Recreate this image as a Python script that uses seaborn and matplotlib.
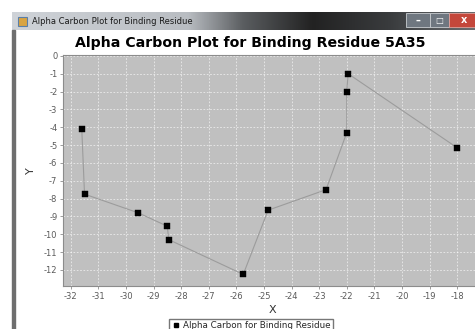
import numpy as np
import pandas as pd
import matplotlib
matplotlib.use('Agg')
import matplotlib.pyplot as plt
from matplotlib.patches import Rectangle
from matplotlib.lines import Line2D
from matplotlib.colors import LinearSegmentedColormap
import seaborn as sns

# Alpha carbon coordinates (in plotting order)
x_vals = [-31.6, -31.5, -29.55, -28.5, -28.45, -25.75, -24.85, -22.75, -22.0, -22.0, -21.95, -18.0]
y_vals = [-4.1, -7.75, -8.8, -9.55, -10.3, -12.25, -8.65, -7.5, -4.3, -2.0, -1.0, -5.15]
x_ticks = list(range(-32, -17))
y_ticks = list(range(0, -13, -1))

datos = pd.DataFrame({'X': x_vals, 'Y': y_vals, 'orden': range(len(x_vals))})

sns.set_style("white")
plt.rcParams['font.family'] = ['DejaVu Sans']

W, H = 475, 329
fig = plt.figure(figsize=(W / 100, H / 100), dpi=100)
fig.patch.set_facecolor('white')

def fx(px):
    return px / W

def fy(py):
    return 1 - py / H

# ventana: borde izquierdo
fig.patches.append(Rectangle((fx(12), 0), 3 / W, fy(30), transform=fig.transFigure,
                             color='#6e6e6e', zorder=0))

# barra de titulo con degradado
tb = fig.add_axes([fx(12), fy(30), (W - 12) / W, 18 / H])
cmap = LinearSegmentedColormap.from_list('tb', [
    (0.0, '#cfd3d8'), (0.38, '#b9bdc2'), (0.5, '#5a5d60'),
    (0.65, '#222222'), (0.82, '#3a3c3e'), (1.0, '#6a6d70')])
grad = np.linspace(0, 1, 256)[None, :]
tb.imshow(grad, aspect='auto', cmap=cmap, extent=(0, 1, 0, 1))
tb.set_xlim(0, 1)
tb.set_ylim(0, 1)
tb.axis('off')
fig.patches.append(Rectangle((fx(18), fy(26)), 9 / W, 9 / H, transform=fig.transFigure,
                             facecolor='#d9a441', edgecolor='#5a7fa8', lw=0.8, zorder=5))
fig.text(fx(32), fy(21), 'Alpha Carbon Plot for Binding Residue', fontsize=6,
         color='#1a1a1a', va='center', ha='left', zorder=6)
# botones
fig.patches.append(Rectangle((fx(406), fy(27)), 24 / W, 14 / H, transform=fig.transFigure,
                             facecolor='#6f7780', edgecolor='#c8ccd0', lw=0.6, zorder=5))
fig.patches.append(Rectangle((fx(430), fy(27)), 19 / W, 14 / H, transform=fig.transFigure,
                             facecolor='#6f7780', edgecolor='#c8ccd0', lw=0.6, zorder=5))
fig.patches.append(Rectangle((fx(449), fy(27)), 30 / W, 14 / H, transform=fig.transFigure,
                             facecolor='#c4473b', edgecolor='#e0a09a', lw=0.6, zorder=5))
fig.text(fx(418), fy(21), '–', fontsize=7, color='white', ha='center', va='center',
         weight='bold', zorder=6)
fig.text(fx(439.5), fy(20), '□', fontsize=6, color='white', ha='center', va='center', zorder=6)
fig.text(fx(464), fy(20), 'x', fontsize=7, color='white', ha='center', va='center',
         weight='bold', zorder=6)

# titulo del grafico
fig.text(fx(250), fy(43), 'Alpha Carbon Plot for Binding Residue 5A35', fontsize=10.2,
         weight='bold', ha='center', va='center', color='black')

# area del grafico
ax = fig.add_axes([fx(63), fy(286), (482 - 63) / W, (286 - 55) / H])
ax.set_facecolor('#c0c0c0')
sns.lineplot(data=datos, x='X', y='Y', sort=False, estimator=None, color='#9c9c9c',
             lw=0.8, ax=ax, zorder=2)
sns.scatterplot(data=datos, x='X', y='Y', marker='s', s=24, color='black',
                edgecolor='black', linewidth=0.3, ax=ax, zorder=3, legend=False)

ax.set_xlim(-32.28, -17.1)
ax.set_ylim(-12.9, 0.05)
ax.set_xticks(x_ticks)
ax.set_yticks(y_ticks)
ax.set_xticklabels([str(t) for t in x_ticks])
ax.set_yticklabels([str(t) for t in y_ticks])
ax.grid(True, color='white', ls=(0, (2, 2)), lw=0.6, alpha=0.7)
ax.set_axisbelow(True)
for s in ax.spines.values():
    s.set_color('#8c8c8c')
    s.set_linewidth(0.8)
ax.tick_params(axis='both', direction='out', length=2, width=0.6, color='#8c8c8c',
               labelsize=6, labelcolor='#5a5a5a', pad=2, bottom=True, left=True)
ax.set_xlabel('X', fontsize=8, color='#333333', labelpad=3)
ax.set_ylabel('Y', fontsize=8, color='#333333', labelpad=6)

handle = Line2D([], [], marker='s', ls='', color='black', markersize=3.5)
fig.legend(handles=[handle], labels=['Alpha Carbon for Binding Residue'], loc='upper center',
           bbox_to_anchor=(fx(251), fy(319)), frameon=True, fancybox=False,
           edgecolor='#555555', fontsize=6.3, borderaxespad=0, handletextpad=0.3,
           borderpad=0.25, handlelength=1)

plt.savefig('out.png', dpi=100)
